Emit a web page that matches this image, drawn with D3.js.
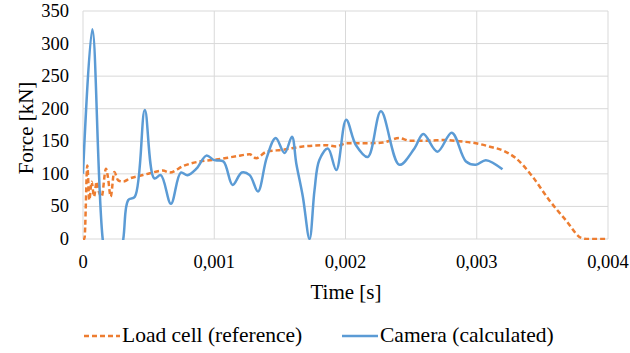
<!DOCTYPE html>
<html>
<head>
<meta charset="utf-8">
<script src="https://cdn.jsdelivr.net/npm/d3@7"></script>
<style>
  body { margin: 0; background: #fff; }
  svg text { font-family: "Liberation Serif", "Times New Roman", serif; fill: #000; }
</style>
</head>
<body>
<div id="chart"></div>
<script>
// time in ms (axis shows seconds), force in kN
var loadTime = [0, 0.011, 0.033, 0.048, 0.066, 0.084, 0.104, 0.122, 0.142, 0.175, 0.19, 0.211, 0.238, 0.268, 0.306, 0.357, 0.433, 0.51, 0.608, 0.662, 0.763, 0.89, 1.017, 1.169, 1.27, 1.32, 1.397, 1.523, 1.675, 1.853, 1.929, 2.005, 2.183, 2.284, 2.41, 2.487, 2.614, 2.766, 2.867, 2.994, 3.095, 3.209, 3.298, 3.424, 3.551, 3.678, 3.805, 3.856, 3.992];
var loadForce = [0, 0, 113, 60, 88, 65, 88, 72, 65, 108, 95, 65, 103, 90, 88, 93, 97, 101, 105, 102, 112, 119, 122, 127, 130, 124, 134, 137, 142, 144, 142, 147, 147, 148, 155, 151, 151, 152, 150, 147, 142, 135, 124, 96, 60, 29, 1, 0, 0];

var camTime = [0, 0.071, 0.15, 0.23, 0.307, 0.345, 0.395, 0.471, 0.543, 0.593, 0.67, 0.745, 0.796, 0.864, 0.94, 1.0, 1.07, 1.14, 1.21, 1.27, 1.333, 1.40, 1.468, 1.536, 1.592, 1.625, 1.675, 1.726, 1.764, 1.80, 1.866, 1.93, 2.005, 2.08, 2.17, 2.27, 2.41, 2.525, 2.593, 2.70, 2.81, 2.918, 2.994, 3.07, 3.196];
var camForce = [100, 322, 0, -100, 0, 60, 65, 198, 93, 98, 54, 102, 98, 108, 128, 121, 119, 83, 102, 98, 73, 125, 155, 132, 157, 116, 65, 0, 75, 121, 139, 106, 183, 144, 126, 196, 114, 139, 161, 134, 163, 119, 114, 121, 107];

var xTicks = [0, 0.001, 0.002, 0.003, 0.004];
var xTickLabels = ["0", "0,001", "0,002", "0,003", "0,004"];
var yTicks = [0, 50, 100, 150, 200, 250, 300, 350];
var seriesNames = ["Load cell (reference)", "Camera (calculated)"];

(function () {
  var width = 630, height = 353;
  var pLeft = 83, pRight = 608, pTop = 11, pBottom = 239;

  var x = d3.scaleLinear().domain([0, 0.004]).range([pLeft, pRight]);
  var y = d3.scaleLinear().domain([0, 350]).range([pBottom, pTop]);

  var svg = d3.select('#chart').append('svg')
    .attr('width', width).attr('height', height)
    .attr('font-family', '"Liberation Serif", "Times New Roman", serif');

  svg.append('defs').append('clipPath').attr('id', 'plot')
    .append('rect').attr('x', pLeft).attr('y', pTop - 5)
    .attr('width', pRight - pLeft + 2).attr('height', pBottom - pTop + 6);

  //gridlines
  svg.append('g').selectAll('line').data(yTicks).enter().append('line')
    .attr('x1', pLeft).attr('x2', pRight)
    .attr('y1', function (d) { return y(d); }).attr('y2', function (d) { return y(d); })
    .style('stroke', '#d9d9d9').style('stroke-width', 1);
  svg.append('g').selectAll('line').data(xTicks).enter().append('line')
    .attr('x1', function (d) { return x(d); }).attr('x2', function (d) { return x(d); })
    .attr('y1', pTop).attr('y2', pBottom)
    .style('stroke', '#d9d9d9').style('stroke-width', 1);

  //tick labels
  svg.append('g').selectAll('text').data(yTicks).enter().append('text')
    .attr('x', 69).attr('y', function (d) { return y(d) + 6; })
    .attr('text-anchor', 'end').style('font-size', '18.5px')
    .text(function (d) { return d; });
  svg.append('g').selectAll('text').data(xTicks).enter().append('text')
    .attr('x', function (d) { return x(d); }).attr('y', 268)
    .attr('text-anchor', 'middle').style('font-size', '18.5px')
    .text(function (d, i) { return xTickLabels[i]; });

  //axis titles
  svg.append('text').attr('transform', 'translate(33,128) rotate(-90)')
    .attr('text-anchor', 'middle').style('font-size', '21px').text('Force [kN]');
  svg.append('text').attr('x', 346).attr('y', 299)
    .attr('text-anchor', 'middle').style('font-size', '21px').text('Time [s]');

  //lines
  var loadData = loadTime.map(function (t, i) { return { t: t / 1000, f: loadForce[i] }; });
  var camData = camTime.map(function (t, i) { return { t: t / 1000, f: camForce[i] }; });

  var loadLine = d3.line().x(function (d) { return x(d.t); }).y(function (d) { return y(d.f); })
    .curve(d3.curveMonotoneX);
  var camLine = d3.line().x(function (d) { return x(d.t); }).y(function (d) { return y(d.f); })
    .curve(d3.curveCatmullRom.alpha(0.5));

  var plot = svg.append('g').attr('clip-path', 'url(#plot)');
  plot.append('path').datum(loadData).attr('d', loadLine)
    .style('fill', 'none').style('stroke', '#ED7D31').style('stroke-width', 2.5)
    .style('stroke-dasharray', '5,3');
  plot.append('path').datum(camData).attr('d', camLine)
    .style('fill', 'none').style('stroke', '#5B9BD5').style('stroke-width', 2.5);

  //legend
  var legend = svg.append('g');
  legend.append('line').attr('x1', 84).attr('x2', 120).attr('y1', 336).attr('y2', 336)
    .style('stroke', '#ED7D31').style('stroke-width', 2.5).style('stroke-dasharray', '5,3');
  legend.append('text').attr('x', 122).attr('y', 342).style('font-size', '21.5px').text(seriesNames[0]);
  legend.append('line').attr('x1', 342).attr('x2', 378).attr('y1', 336).attr('y2', 336)
    .style('stroke', '#5B9BD5').style('stroke-width', 2.5);
  legend.append('text').attr('x', 380).attr('y', 342).style('font-size', '21.5px').text(seriesNames[1]);
})();
</script>
</body>
</html>
